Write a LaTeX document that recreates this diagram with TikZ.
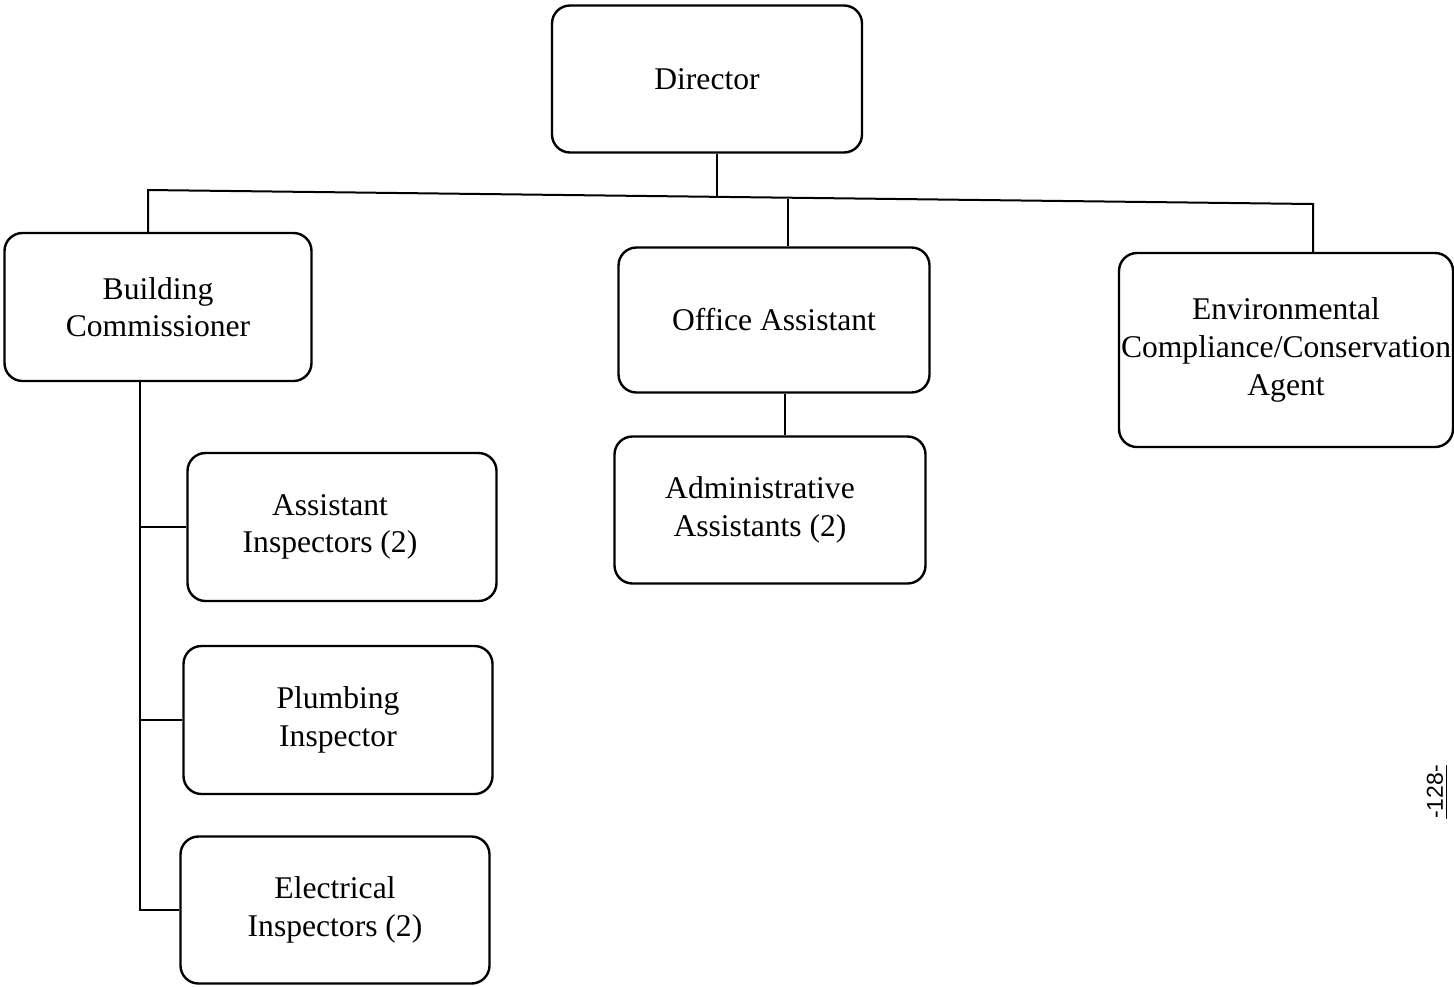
\documentclass[tikz,border=0pt]{standalone}
\usepackage{fontspec}
\setmainfont{Liberation Serif}
\newfontfamily\pagefont{Liberation Sans}
\begin{document}
\begin{tikzpicture}[x=0.5pt,y=-0.5pt,
  orgbox/.style={draw,line width=1.2pt,rounded corners=9pt,align=center,
    inner sep=0pt,font=\fontsize{15.8}{18.8}\selectfont},
  link/.style={line width=1pt}]
\useasboundingbox (0,0) rectangle (1454,986);
\node[orgbox,minimum width=155pt,minimum height=73.5pt] (dir) at (707,79) {\raisebox{-2.5pt}{Director}};
\node[orgbox,minimum width=153.5pt,minimum height=74pt] (bc) at (158,307) {Building\\Commissioner};
\node[orgbox,minimum width=155.5pt,minimum height=72.5pt] (oa) at (774,320) {\raisebox{-2pt}{Office Assistant}};
\node[orgbox,minimum width=167pt,minimum height=97pt] (env) at (1286,350) {Environmental\\Compliance/Conservation\\Agent};
\node[orgbox,minimum width=154.5pt,minimum height=74pt] (ai) at (342,527) {Assistant\hspace*{12pt}\\Inspectors (2)\hspace*{12pt}};
\node[orgbox,minimum width=154.5pt,minimum height=74pt] (pi) at (338,720) {Plumbing\\Inspector};
\node[orgbox,minimum width=154.5pt,minimum height=73.5pt] (ei) at (335,910) {Electrical\\Inspectors (2)};
\node[orgbox,minimum width=155.5pt,minimum height=73.5pt] (aa) at (770,510) {Administrative\hspace*{10pt}\\Assistants (2)\hspace*{10pt}};
\coordinate (bL) at (148,190);
\coordinate (bR) at (1313,204);
\coordinate (bD) at (717,197);
\coordinate (bO) at (788,199);
\coordinate (tr) at (140,0);
\coordinate (oaX) at (785,0);
\draw[link] (bc.north -| bL) -- (bL) -- (bR) -- (env.north -| bR);
\draw[link] (dir.south -| bD) -- (bD);
\draw[link] (bO) -- (oa.north -| bO);
\draw[link] (bc.south -| tr) -- (ei.west -| tr) -- (ei.west);
\draw[link] (ai.west -| tr) -- (ai.west);
\draw[link] (pi.west -| tr) -- (pi.west);
\draw[link] (oa.south -| oaX) -- (aa.north -| oaX);
\node[rotate=90,font=\pagefont\fontsize{11.5}{13}\selectfont] (pg) at (1437,792) {\underline{-128-}};
\end{tikzpicture}
\end{document}
